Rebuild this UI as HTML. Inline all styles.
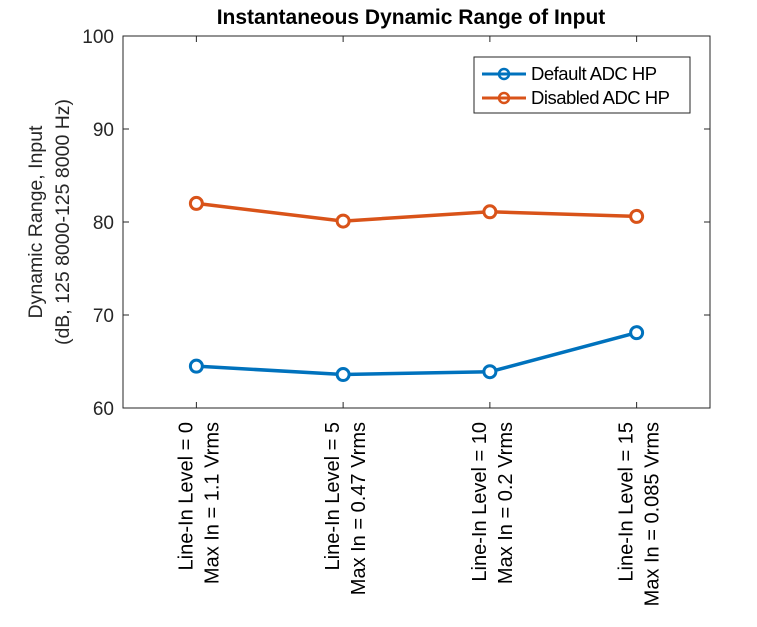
<!DOCTYPE html>
<html><head><meta charset="utf-8"><style>
body{margin:0;background:#fff;}
svg{display:block;font-family:"Liberation Sans",Arial,sans-serif;}
</style></head><body>
<svg id="chart" width="757" height="627">
<text x="411" y="24" text-anchor="middle" font-size="21" font-weight="bold">Instantaneous Dynamic Range of Input</text>
<g id="axes"></g>
<g id="series"></g>
<g>
<rect x="474" y="57" width="216" height="56" fill="#fff" stroke="#262626" stroke-width="1"/>
<g>
<line x1="482" y1="74" x2="526" y2="74" stroke="#0072BD" stroke-width="3"/>
<circle cx="504" cy="74" r="5" fill="none" stroke="#0072BD" stroke-width="2.5"/>
<text x="531" y="80" font-size="18.5" letter-spacing="-0.5">Default ADC HP</text></g>
<g>
<line x1="482" y1="98" x2="526" y2="98" stroke="#D95319" stroke-width="3"/>
<circle cx="504" cy="98" r="5" fill="none" stroke="#D95319" stroke-width="2.5"/>
<text x="531" y="104" font-size="18.5" letter-spacing="-0.5">Disabled ADC HP</text></g>
</g>
</svg>
<script>
const categories=[["Line-In Level = 0","Max In = 1.1 Vrms"],["Line-In Level = 5","Max In = 0.47 Vrms"],["Line-In Level = 10","Max In = 0.2 Vrms"],["Line-In Level = 15","Max In = 0.085 Vrms"]];
const defaultHP=[64.5,63.6,63.9,68.1];
const disabledHP=[82.0,80.1,81.1,80.6];
const yTicks=[60,70,80,90,100];
const NS="http://www.w3.org/2000/svg";
const L=123,R=710,T=36,B=408;
function xs(i){return L+(i+0.5)*(R-L)/categories.length;}
function ys(v){return B-(v-60)/40*(B-T);}
function mk(tag,attrs,parent){const e=document.createElementNS(NS,tag);for(const k in attrs)e.setAttribute(k,attrs[k]);parent.appendChild(e);return e;}
const ax=document.getElementById('axes');
const box=mk('rect',{x:L,y:T,width:R-L,height:B-T,fill:'none',stroke:'#262626','stroke-width':1},ax);


yTicks.forEach(v=>{const y=ys(v);
mk('line',{x1:L,x2:L+6,y1:y,y2:y,stroke:'#262626'},ax);
mk('line',{x1:R,x2:R-6,y1:y,y2:y,stroke:'#262626'},ax);
const t=mk('text',{x:L-9,y:y+7,'text-anchor':'end','font-size':19,fill:'#262626'},ax);t.textContent=v;

});
categories.forEach((c,i)=>{const x=xs(i);
mk('line',{x1:x,x2:x,y1:B,y2:B-6,stroke:'#262626'},ax);
mk('line',{x1:x,x2:x,y1:T,y2:T+6,stroke:'#262626'},ax);
c.forEach((s,j)=>{const t=mk('text',{x:0,y:0,'text-anchor':'end','font-size':20,fill:'#000',transform:`translate(${x-4+j*26},${B+14}) rotate(-90)`},ax);t.textContent=s;

});});
const yt=mk('text',{'text-anchor':'middle','font-size':19.5,fill:'#262626',transform:'translate(42,222) rotate(-90)'},ax);


mk('tspan',{x:0,y:0},yt).textContent='Dynamic Range, Input';
mk('tspan',{x:0,y:27},yt).textContent='(dB, 125  8000-125  8000 Hz)';
const sg=document.getElementById('series');
[[defaultHP,'#0072BD','default'],[disabledHP,'#D95319','disabled']].forEach(([d,col,n])=>{
const p=mk('polyline',{points:d.map((v,i)=>xs(i)+','+ys(v)).join(' '),fill:'none',stroke:col,'stroke-width':3.5},sg);


d.forEach((v,i)=>{const c=mk('circle',{cx:xs(i),cy:ys(v),r:6,fill:'#fff',stroke:col,'stroke-width':3},sg);

});});
</script>
</body></html>
